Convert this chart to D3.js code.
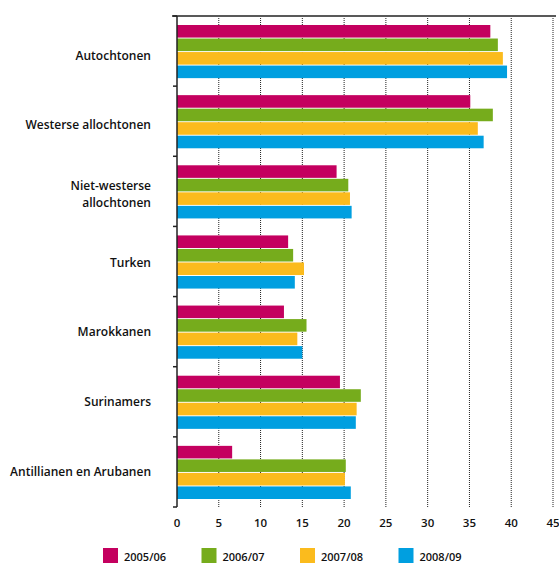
<!DOCTYPE html>
<html>
<head>
<meta charset="utf-8">
<script src="https://cdn.jsdelivr.net/npm/d3@7"></script>
<style>
  body { margin: 0; background: #fff; }
  svg { display: block; font-family: "Open Sans", sans-serif; }
</style>
</head>
<body>
<div id="chart"></div>
<script>
// categories, top to bottom
var categories = ["Autochtonen", "Westerse allochtonen", "Niet-westerse allochtonen",
    "Turken", "Marokkanen", "Surinamers", "Antillianen en Arubanen"];
// label lines (some labels wrap)
var labelLines = [["Autochtonen"], ["Westerse allochtonen"], ["Niet-westerse", "allochtonen"],
    ["Turken"], ["Marokkanen"], ["Surinamers"], ["Antillianen en Arubanen"]];

var seriesNames = ["2005/06", "2006/07", "2007/08", "2008/09"];
var colors = ["#c4005f", "#76ac1c", "#fbbb1d", "#009fe0"];

var v2005 = [37.5, 35.1, 19.1, 13.3, 12.8, 19.5, 6.6];
var v2006 = [38.4, 37.8, 20.5, 13.9, 15.5, 22.0, 20.2];
var v2007 = [39.0, 36.0, 20.7, 15.2, 14.4, 21.5, 20.1];
var v2008 = [39.5, 36.7, 20.9, 14.1, 15.0, 21.4, 20.8];
var series = [v2005, v2006, v2007, v2008];

var xTicks = [0, 5, 10, 15, 20, 25, 30, 35, 40, 45];

var W = 559, H = 563;
// plot area bounds (note: "top" is reserved on window)
var pLeft = 177, pRight = 553, pTop = 16, pBottom = 507;
// small vertical nudges for the category labels, like the original typesetting
var labelNudge = [6, 5, 4, 2.5, 1.5, 1, 0.5];

var svg = d3.select("#chart").append("svg")
    .attr("width", W)
    .attr("height", H);

var x = d3.scaleLinear().domain([0, 45]).range([pLeft, pRight]);
var y0 = d3.scaleBand().domain(categories).range([pTop, pBottom]).paddingInner(0);
var y1 = d3.scaleBand().domain(seriesNames).range([9, y0.bandwidth() - 8]).paddingInner(0.07);

// dotted gridlines
svg.append("g")
    .selectAll("line")
    .data(xTicks.slice(1))
    .enter().append("line")
    .attr("x1", function (d) { return x(d); })
    .attr("x2", function (d) { return x(d); })
    .attr("y1", pTop + 2)
    .attr("y2", pBottom)
    .attr("stroke", "#222")
    .attr("stroke-width", 1)
    .attr("stroke-dasharray", "1,1");

// bars
var groups = svg.append("g")
    .selectAll("g")
    .data(categories)
    .enter().append("g")
    .attr("transform", function (d) { return "translate(0," + y0(d) + ")"; });

groups.selectAll("rect")
    .data(function (d, i) {
        return seriesNames.map(function (s, j) { return { s: s, j: j, v: series[j][i] }; });
    })
    .enter().append("rect")
    .attr("x", x(0))
    .attr("y", function (d) { return y1(d.s); })
    .attr("width", function (d) { return x(d.v) - x(0); })
    .attr("height", y1.bandwidth())
    .attr("fill", function (d) { return colors[d.j]; });

// top border line
svg.append("line")
    .attr("x1", 172).attr("x2", 556)
    .attr("y1", pTop).attr("y2", pTop)
    .attr("stroke", "#222").attr("stroke-width", 1.5);

// left axis with category ticks
var yAxis = svg.append("g");
yAxis.append("line")
    .attr("x1", pLeft).attr("x2", pLeft)
    .attr("y1", pTop).attr("y2", pBottom)
    .attr("stroke", "#222").attr("stroke-width", 1.5);
var bounds = categories.map(function (c) { return y0(c); }).concat([pBottom]);
yAxis.selectAll(".tk")
    .data(bounds)
    .enter().append("line")
    .attr("class", "tk")
    .attr("x1", pLeft - 4).attr("x2", pLeft)
    .attr("y1", function (d) { return d; })
    .attr("y2", function (d) { return d; })
    .attr("stroke", "#222").attr("stroke-width", 1.5);

// category labels
var labels = svg.append("g")
    .selectAll("text")
    .data(categories)
    .enter().append("text")
    .attr("x", 151)
    .attr("text-anchor", "end")
    .attr("font-size", 12)
    .attr("font-weight", 600)
    .attr("fill", "#111");
labels.each(function (d, i) {
    var lines = labelLines[i];
    var cy = y0(d) + y0.bandwidth() / 2 - 1 + labelNudge[i];
    var t = d3.select(this);
    lines.forEach(function (ln, k) {
        t.append("tspan")
            .attr("x", 151)
            .attr("y", cy + (k - (lines.length - 1) / 2) * 17)
            .attr("dy", "0.35em")
            .text(ln);
    });
});

// x tick labels
svg.append("g")
    .selectAll("text")
    .data(xTicks)
    .enter().append("text")
    .attr("x", function (d) { return x(d); })
    .attr("y", 523)
    .attr("dy", "0.35em")
    .attr("text-anchor", "middle")
    .attr("font-size", 11.5)
    .attr("font-weight", 600)
    .attr("fill", "#111")
    .text(function (d) { return d; });

// legend
var legend = svg.append("g")
    .selectAll("g")
    .data(seriesNames)
    .enter().append("g")
    .attr("transform", function (d, i) { return "translate(" + (103 + i * 98.5) + ",548)"; });
legend.append("rect")
    .attr("width", 15)
    .attr("height", 15)
    .attr("fill", function (d, i) { return colors[i]; });
legend.append("text")
    .attr("x", 21)
    .attr("y", 9)
    .attr("dy", "0.35em")
    .attr("font-size", 11)
    .attr("font-weight", 600)
    .attr("fill", "#111")
    .text(function (d) { return d; });
</script>
</body>
</html>
